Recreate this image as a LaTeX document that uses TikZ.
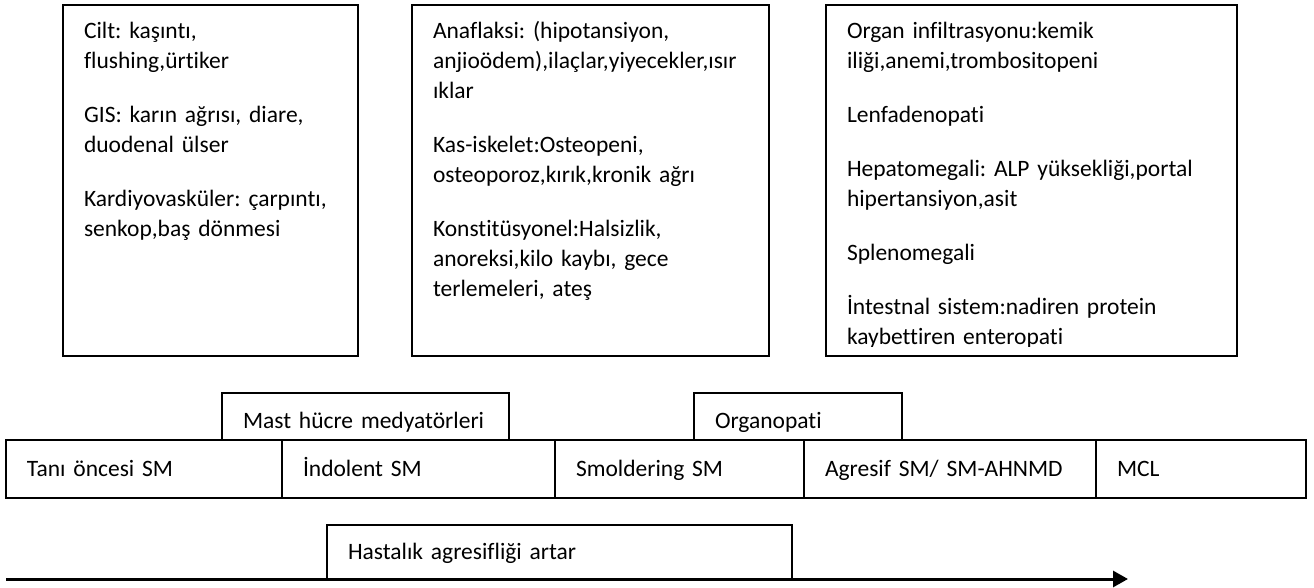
\documentclass[tikz,border=0pt]{standalone}
\usepackage{fontspec}
\setmainfont{Carlito}[Ligatures={NoCommon}]
\usetikzlibrary{arrows.meta}
\frenchspacing
\tikzset{
  frame/.style={draw, line width=1.8pt, inner sep=0pt, outer sep=0pt, anchor=north west},
  body/.style={anchor=north west, inner sep=0pt, outer sep=0pt, align=left, text width=420pt,
    font=\fontsize{23.5}{30}\selectfont\frenchspacing},
  cell/.style={draw, line width=1.8pt, anchor=north west, inner xsep=21pt, inner ysep=0pt,
    outer sep=0pt, align=left, text height=15pt, text depth=0pt,
    font=\fontsize{23.5}{30}\selectfont\frenchspacing},
  tab/.style={cell, text height=23pt},
  axis/.style={line width=3pt, -{Triangle[length=15pt,width=16pt]}}
}
\begin{document}
\begin{tikzpicture}[x=1pt,y=-1pt]
\useasboundingbox (0,0) rectangle (1314,588);
% top boxes
\node[frame, minimum width=295pt, minimum height=351pt] (b1) at (63,5) {};
\node[frame, minimum width=357pt, minimum height=351pt] (b2) at (412,5) {};
\node[frame, minimum width=411pt, minimum height=351pt] (b3) at (826,5) {};
\node[body] (t1) at (84,18) {\strut Cilt: kaşıntı,\\ flushing,ürtiker\\[24pt]
GIS: karın ağrısı, diare,\\ duodenal ülser\\[24pt]
Kardiyovasküler: çarpıntı,\\ senkop,baş dönmesi};
\node[body] (t2) at (433,18) {\strut Anaflaksi: (hipotansiyon,\\ anjioödem),ilaçlar,yiyecekler,ısır\\ ıklar\\[24pt]
Kas-iskelet:Osteopeni,\\ osteoporoz,kırık,kronik ağrı\\[24pt]
Konstitüsyonel:Halsizlik,\\ anoreksi,kilo kaybı, gece\\ terlemeleri, ateş};
\begin{scope}
\clip (826,5) rectangle (1237,346);
\node[body] (t3) at (847,18) {\strut Organ infiltrasyonu:kemik\\ iliği,anemi,trombositopeni\\[24pt]
Lenfadenopati\\[24pt]
Hepatomegali: ALP yüksekliği,portal\\ hipertansiyon,asit\\[24pt]
Splenomegali\\[24pt]
İntestnal sistem:nadiren protein\\ kaybettiren enteropati};
\end{scope}
% tabs above the row
\node[tab, text width=245pt, minimum height=47pt] (mast) at (222,393) {Mast hücre medyatörleri};
\node[tab, text width=166pt, minimum height=47pt] (organ) at (694,393) {Organopati};
% main row
\node[cell, text width=234pt, minimum height=58pt] (c1) at (6,440) {Tanı öncesi SM};
\node[cell, text width=231pt, minimum height=58pt] (c2) at (282,440) {İndolent SM};
\node[cell, text width=207pt, minimum height=58pt] (c3) at (555,440) {Smoldering SM};
\node[cell, text width=250pt, minimum height=58pt] (c4) at (804,440) {Agresif SM/ SM-AHNMD};
\node[cell, text width=168pt, minimum height=58pt] (c5) at (1096,440) {MCL};
% disease aggressiveness
\node[cell, text width=423pt, text height=14pt, minimum height=54pt] (agg) at (327,525) {Hastalık agresifliği artar};
\coordinate (as) at (6,579);
\coordinate (ae) at (1128,579);
\draw[axis] (as) -- (ae);
\end{tikzpicture}
\end{document}
